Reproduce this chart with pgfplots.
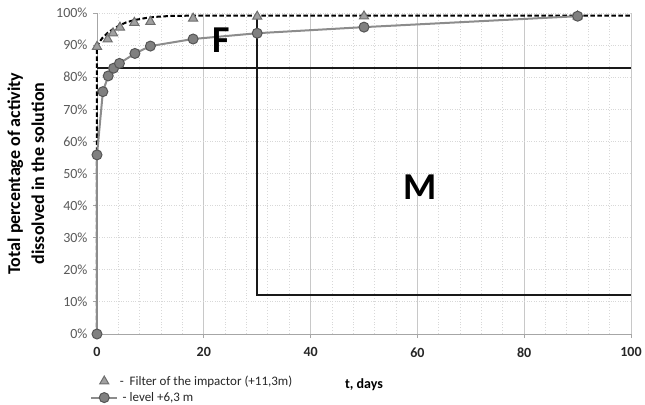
\documentclass[border=0pt]{standalone}
\usepackage{fontspec}
\setmainfont{Carlito}
\usepackage{pgfplots}
\pgfplotsset{compat=1.18}
\definecolor{gridgray}{HTML}{C8C8C8}
\definecolor{minorgray}{HTML}{D8D8D8}
\definecolor{axgray}{HTML}{A6A6A6}
\definecolor{tickgray}{HTML}{595959}
\definecolor{trifill}{HTML}{A0A0A0}
\definecolor{triedge}{HTML}{6E6E6E}
\definecolor{cirfill}{HTML}{808080}
\definecolor{ciredge}{HTML}{555555}
\definecolor{cirline}{HTML}{8C8C8C}
\begin{document}
\begin{tikzpicture}
\begin{axis}[
  scale only axis,
  width=534pt, height=321pt,
  xmin=0, xmax=100, ymin=0, ymax=100,
  xtick={0,20,...,100},
  minor x tick num=4,
  ytick={0,10,...,100},
  axis x line=bottom, axis y line=left,
  axis line style={-, draw=axgray, line width=0.9pt},
  tick align=outside,
  major tick length=4pt, minor tick length=0pt,
  tick style={draw=axgray, line width=0.9pt},
  xmajorgrids, xminorgrids, ymajorgrids,
  x grid style={draw=gridgray, line width=0.9pt},
  minor x grid style={draw=minorgray, dotted, line width=0.9pt},
  y grid style={draw=minorgray, dotted, line width=0.9pt},
  /pgf/number format/assume math mode=true,
  yticklabel={\pgfmathprintnumber{\tick}\%},
  yticklabel style={font=\fontsize{14}{16}\selectfont, text=tickgray, xshift=-2pt},
  xticklabel style={font=\fontsize{14}{16}\selectfont\bfseries, text=black!85, yshift=-6pt},
  xlabel={t, days},
  xlabel style={font=\fontsize{14}{16}\selectfont\bfseries, at={(axis description cs:0.5,-0.158)}, anchor=center},
  ylabel={Total percentage of activity\\dissolved in the solution},
  ylabel style={font=\fontsize{18}{24}\selectfont\bfseries, align=center, at={(axis description cs:-0.133,0.5)}, anchor=center},
  legend style={at={(rel axis cs:-0.013,-0.125)}, anchor=north west, draw=none, fill=none,
    inner sep=0pt, font=\fontsize{13}{15}\selectfont, row sep=2.5pt,
    nodes={inner sep=1.5pt, text=black!85}},
  legend cell align=left,
  legend image code/.code={\draw[mark repeat=2,mark phase=2,#1] plot coordinates {(0pt,0pt) (13pt,0pt) (26pt,0pt)};},
  clip=false,
]
% fitted dashed curve
\addplot[black, line width=2pt, dash pattern=on 4.5pt off 2.5pt, forget plot] coordinates {
(0,0) (0,89.5) (0.3,90.5) (0.6,91.3) (1,92.2) (2,93.8) (3,95.0) (4.3,96.2) (5.5,97.1) (7,97.8) (9,98.4) (11,98.8) (14,99.1) (20,99.2) (100,99.2)};
% F / M boundaries
\addplot[black!90, line width=2pt, forget plot] coordinates {(0,83) (100,83)};
\addplot[black!90, line width=2pt, forget plot] coordinates {(30,100) (30,12) (100,12)};
% Filter of the impactor
\addplot[only marks, mark=triangle*, mark size=5.3pt, mark options={fill=trifill, draw=triedge, line width=1pt}] coordinates {
(0,89.5) (2,91.8) (3,93.7) (4.3,95.5) (7,97.0) (10,97.3) (18,98.3) (30,98.9) (50,99) (90,99)};
\addlegendentry{-\ \ Filter of the impactor (+11,3m)}
% level +6,3 m
\addplot[cirline, line width=2pt, mark=*, mark size=5pt, mark options={fill=cirfill, draw=ciredge, line width=1pt}] coordinates {
(0,0) (0,55.8) (1.1,75.5) (2.1,80.4) (3.1,82.8) (4.2,84.3) (7.1,87.4) (10,89.7) (18,91.9) (30,93.7) (50,95.6) (90,99)};
\addlegendentry{\ - level +6,3 m}
\node[font=\fontsize{38}{40}\selectfont\bfseries, inner sep=0pt] at (axis cs:23.3,91.4) {F};
\node[font=\fontsize{38}{40}\selectfont\bfseries, inner sep=0pt] at (axis cs:60.5,45.8) {M};
\coordinate (ll) at (rel axis cs:0,0);
\coordinate (ur) at (rel axis cs:1,1);
\end{axis}
\path[use as bounding box] ([shift={(-97pt,-69pt)}]ll) rectangle ([shift={(14pt,13pt)}]ur);
\end{tikzpicture}
\end{document}
